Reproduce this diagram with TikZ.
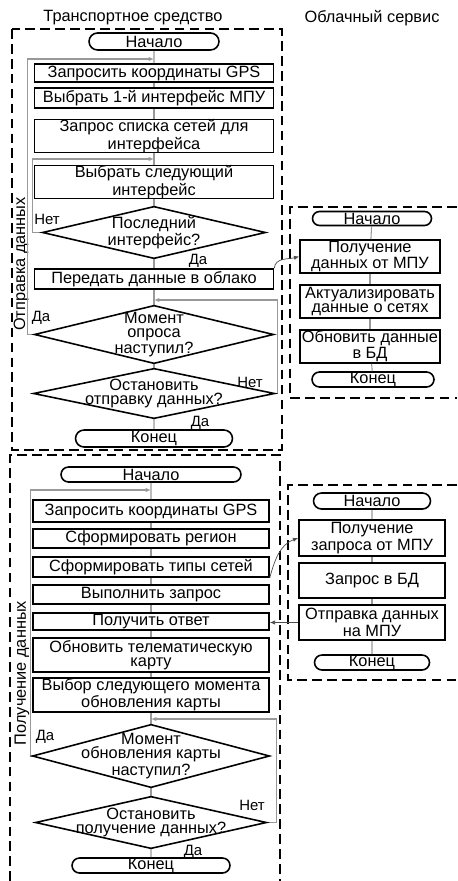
\documentclass[tikz,border=0pt]{standalone}
\usepackage{fontspec}
\setmainfont{Liberation Sans}
\usetikzlibrary{shapes.misc, arrows.meta}

\begin{document}
\begin{tikzpicture}[x=0.02cm, y=-0.02cm,
  every node/.style={font=\fontsize{9.3}{8}\selectfont, inner sep=0pt, align=center},
  box/.style={draw, line width=0.9pt, rectangle, minimum width=4.78cm},
  cbox/.style={draw, line width=0.9pt, rectangle, minimum width=2.8cm, minimum height=0.66cm},
  term/.style={draw, line width=0.9pt, rounded rectangle},
  decision/.style={rectangle},
  flow/.style={black!40, semithick},
  loopback/.style={black!40, semithick, -{Latex[length=3pt,width=2.4pt]}},
  link/.style={black!70, thin, -{Latex[length=3pt,width=2.4pt]}},
  frame/.style={line width=0.9pt, dash pattern=on 5.5pt off 3pt},
  lbl/.style={font=\fontsize{8.5}{9}\selectfont}]
\useasboundingbox (0,0) rectangle (457,881);

% titles
\node (veh) at (133,18) {Транспортное средство};
\node (cloud) at (372,18) {Облачный сервис};

% frames
\draw[frame] (12,29) rectangle (282,450);
\draw[frame] (10,881) -- (10,455) -- (280,455) -- (280,881);
\draw[frame] (457,207) -- (290,207) -- (290,398) -- (457,398);
\draw[frame] (457,485) -- (288,485) -- (288,680) -- (457,680);
\node[rotate=90] (sendlbl) at (21,264) {Отправка данных};
\node[rotate=90] (recvlbl) at (22,673) {Получение данных};

% sending data
\node[term, minimum width=2.6cm, minimum height=0.34cm] (start1) at (154,41.5) {Начало};
\node[box, minimum height=0.36cm] (gps1) at (154,73) {Запросить координаты GPS};
\node[box, minimum height=0.4cm] (iface1) at (154,98) {Выбрать 1-й интерфейс МПУ};
\node[box, minimum height=0.64cm] (netlist) at (154,136) {Запрос списка сетей для\\интерфейса};
\node[box, minimum height=0.64cm] (nextif) at (154,182) {Выбрать следующий\\интерфейс};
\node[decision, minimum width=4.44cm, minimum height=1.02cm] (lastif) at (154,232.5) {Последний\\интерфейс?};
\node[box, minimum height=0.4cm] (send) at (154,279) {Передать данные в облако};
\node[decision, minimum width=4.76cm, minimum height=1.14cm] (poll) at (154,334.5) {Момент\\опроса\\наступил?};
\node[decision, minimum width=4.8cm, minimum height=0.98cm] (stopsend) at (154,393.5) {Остановить\\отправку данных?};
\node[term, minimum width=3.14cm, minimum height=0.34cm] (end1) at (154,438.5) {Конец};

\foreach \a/\b in {start1/gps1, gps1/iface1, iface1/netlist, netlist/nextif, nextif/lastif,
                   lastif/send, send/poll, poll/stopsend, stopsend/end1}
  \draw[flow] (\a) -- (\b);

\coordinate (j1) at (154,159);
\coordinate (j2) at (154,59);
\coordinate (j3) at (154,300);
\draw[loopback] (lastif.west) -- ++(-10,0) |- (j1);
\draw[loopback] (poll.west) -- ++(-7,0) |- (j2);
\draw[loopback] (stopsend.east) -- ++(3,0) |- (j3);
\node[lbl] at (47,219) {Нет};
\node[lbl] at (198,261) {Да};
\node[lbl] at (41,318) {Да};
\node[lbl] at (250,382) {Нет};
\node[lbl] at (200,423) {Да};

% cloud, part 1
\node[term, minimum width=2.38cm, minimum height=0.28cm] (cstart1) at (372,218.5) {Начало};
\node[cbox] (recv1) at (370,256.5) {Получение\\данных от МПУ};
\node[cbox] (actual) at (370,301.5) {Актуализировать\\данные о сетях};
\node[cbox] (updb) at (370,346.5) {Обновить данные\\в БД};
\node[term, minimum width=2.44cm, minimum height=0.3cm] (cend1) at (373,379.5) {Конец};
\foreach \a/\b in {cstart1/recv1, recv1/actual, actual/updb, updb/cend1}
  \draw[flow] (\a) -- (\b);
\draw[link] (send.north east) to[out=85,in=195] (recv1.west);

% receiving data
\node[term, minimum width=3.6cm, minimum height=0.3cm] (start2) at (151,474.5) {Начало};
\node[box, minimum width=4.72cm, minimum height=0.44cm] (gps2) at (151,511) {Запросить координаты GPS};
\node[box, minimum width=4.72cm, minimum height=0.38cm] (region) at (151,538.5) {Сформировать регион};
\node[box, minimum width=4.72cm, minimum height=0.4cm] (nettypes) at (151,567) {Сформировать типы сетей};
\node[box, minimum width=4.72cm, minimum height=0.38cm] (query) at (151,594.5) {Выполнить запрос};
\node[box, minimum width=4.72cm, minimum height=0.34cm] (answer) at (151,621.5) {Получить ответ};
\node[box, minimum width=4.72cm, minimum height=0.68cm] (updmap) at (151,655) {Обновить телематическую\\карту};
\node[box, minimum width=4.72cm, minimum height=0.68cm] (nextmom) at (151,695) {Выбор следующего момента\\обновления карты};
\node[decision, minimum width=4.72cm, minimum height=1.24cm] (updtime) at (151,756) {Момент\\обновления карты\\наступил?};
\node[decision, minimum width=4.6cm, minimum height=1.02cm] (stoprecv) at (151,822.5) {Остановить\\получение данных?};
\node[term, minimum width=3.16cm, minimum height=0.3cm] (end2) at (151,865.5) {Конец};

\foreach \a/\b in {start2/gps2, gps2/region, region/nettypes, nettypes/query, query/answer,
                   answer/updmap, updmap/nextmom, nextmom/updtime, updtime/stoprecv, stoprecv/end2}
  \draw[flow] (\a) -- (\b);

\coordinate (j4) at (151,490);
\coordinate (j5) at (151,719);
\draw[loopback] (updtime.west) -- ++(-2,0) |- (j4);
\draw[loopback] (stoprecv.east) -- ++(10,0) |- (j5);
\node[lbl] at (45,737) {Да};
\node[lbl] at (252,805) {Нет};
\node[lbl] at (193,852) {Да};

% cloud, part 2
\node[term, minimum width=2.34cm, minimum height=0.32cm] (cstart2) at (372,501) {Начало};
\node[cbox, minimum width=2.92cm, minimum height=0.72cm] (recv2) at (372,538) {Получение\\запроса от МПУ};
\node[cbox, minimum width=2.92cm, minimum height=0.7cm] (dbq) at (372,580.5) {Запрос в БД};
\node[cbox, minimum width=2.92cm, minimum height=0.7cm] (senddata) at (372,622.5) {Отправка данных\\на МПУ};
\node[term, minimum width=2.3cm, minimum height=0.3cm] (cend2) at (372,662.5) {Конец};
\foreach \a/\b in {cstart2/recv2, recv2/dbq, dbq/senddata, senddata/cend2}
  \draw[flow] (\a) -- (\b);
\draw[link] (nettypes.south east) to[out=75,in=200] (recv2.west);
\draw[link] (senddata.west) -- (answer.east |- senddata.west);

% decision shapes
\foreach \d in {lastif, poll, stopsend, updtime, stoprecv}
  \draw[line width=0.9pt] (\d.north) -- (\d.east) -- (\d.south) -- (\d.west) -- cycle;
\end{tikzpicture}
\end{document}
